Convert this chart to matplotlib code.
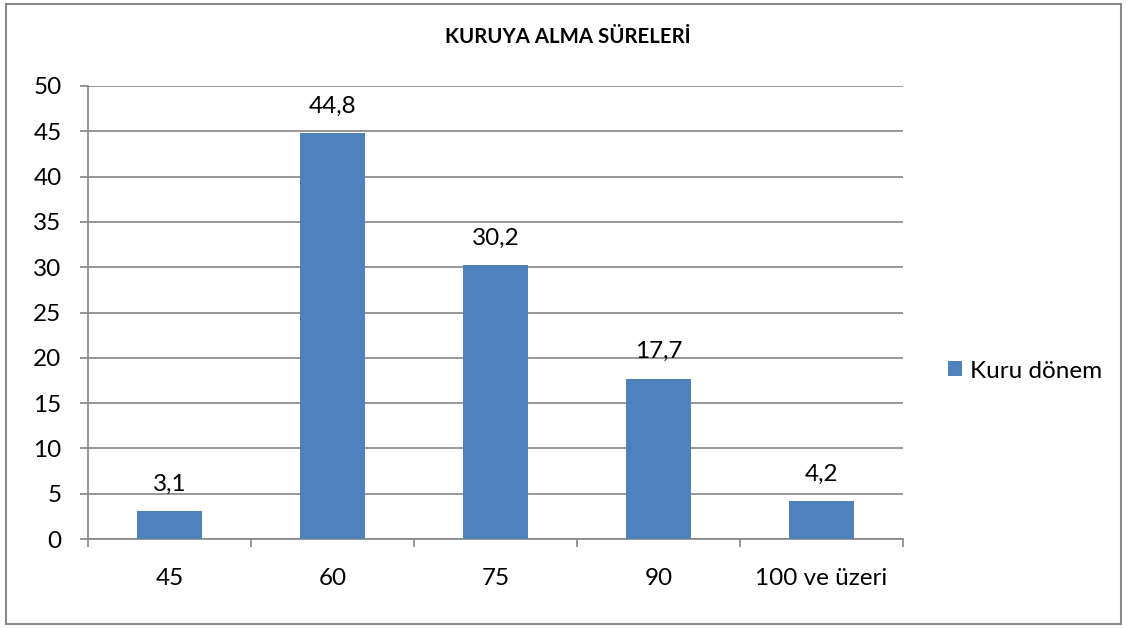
import matplotlib.pyplot as plt
from matplotlib.patches import Rectangle

categories = ['45', '60', '75', '90', '100 ve üzeri']
values = [3.1, 44.8, 30.2, 17.7, 4.2]
value_labels = ['3,1', '44,8', '30,2', '17,7', '4,2']
series_name = 'Kuru dönem'
title = 'KURUYA ALMA SÜRELERİ'

plt.rcParams['font.family'] = ['Lato', 'DejaVu Sans']

bar_color = '#4F81BD'
grid_color = '#868686'
fs = 17.5

fig = plt.figure(figsize=(11.3, 6.28), dpi=100)
ax = fig.add_axes([88 / 1130, 89 / 628, 815 / 1130, 453 / 628])

x = list(range(len(categories)))
bars = ax.bar(x, values, width=0.4, color=bar_color, label=series_name, zorder=3)

for xi, v, lab in zip(x, values, value_labels):
    ax.annotate(lab, (xi, v), xytext=(0, 19.4), textcoords='offset points',
                ha='center', va='center', fontsize=fs, color='black', zorder=4)

ax.set_xlim(-0.5, len(categories) - 0.5)
ax.set_ylim(0, 50)
ax.set_yticks(range(0, 51, 5))
ax.yaxis.grid(True, color=grid_color, linewidth=1.2, zorder=0)

# category boundaries as major ticks, labels on minor ticks
ax.set_xticks([i - 0.5 for i in range(len(categories) + 1)])
ax.set_xticklabels([])
ax.set_xticks(x, minor=True)
ax.set_xticklabels(categories, minor=True)
ax.tick_params(axis='x', which='major', length=6, width=1.2, color=grid_color, direction='out')
ax.tick_params(axis='x', which='minor', length=0, pad=21, labelsize=fs)
ax.tick_params(axis='y', length=6, width=1.2, color=grid_color, pad=13, labelsize=fs)

for side in ['top', 'right']:
    ax.spines[side].set_visible(False)
for side in ['left', 'bottom']:
    ax.spines[side].set_color(grid_color)
    ax.spines[side].set_linewidth(1.2)

fig.text(568 / 1130, 1 - 37 / 628, title, ha='center', va='center',
         fontsize=14.7, fontweight='bold')

leg = fig.legend(handles=[bars], labels=[series_name], loc='center left',
                 bbox_to_anchor=(948 / 1130, 1 - 371 / 628), frameon=False,
                 fontsize=fs, handlelength=0.58, handleheight=0.58,
                 handletextpad=0.33, borderpad=0, borderaxespad=0)

outer_border = Rectangle((6 / 1130, 4 / 628), 1115 / 1130, 620 / 628,
                         linewidth=1.5, edgecolor='#898989', facecolor='none',
                         transform=fig.transFigure)
fig.patches.append(outer_border)

fig.savefig('out.png', dpi=100)
